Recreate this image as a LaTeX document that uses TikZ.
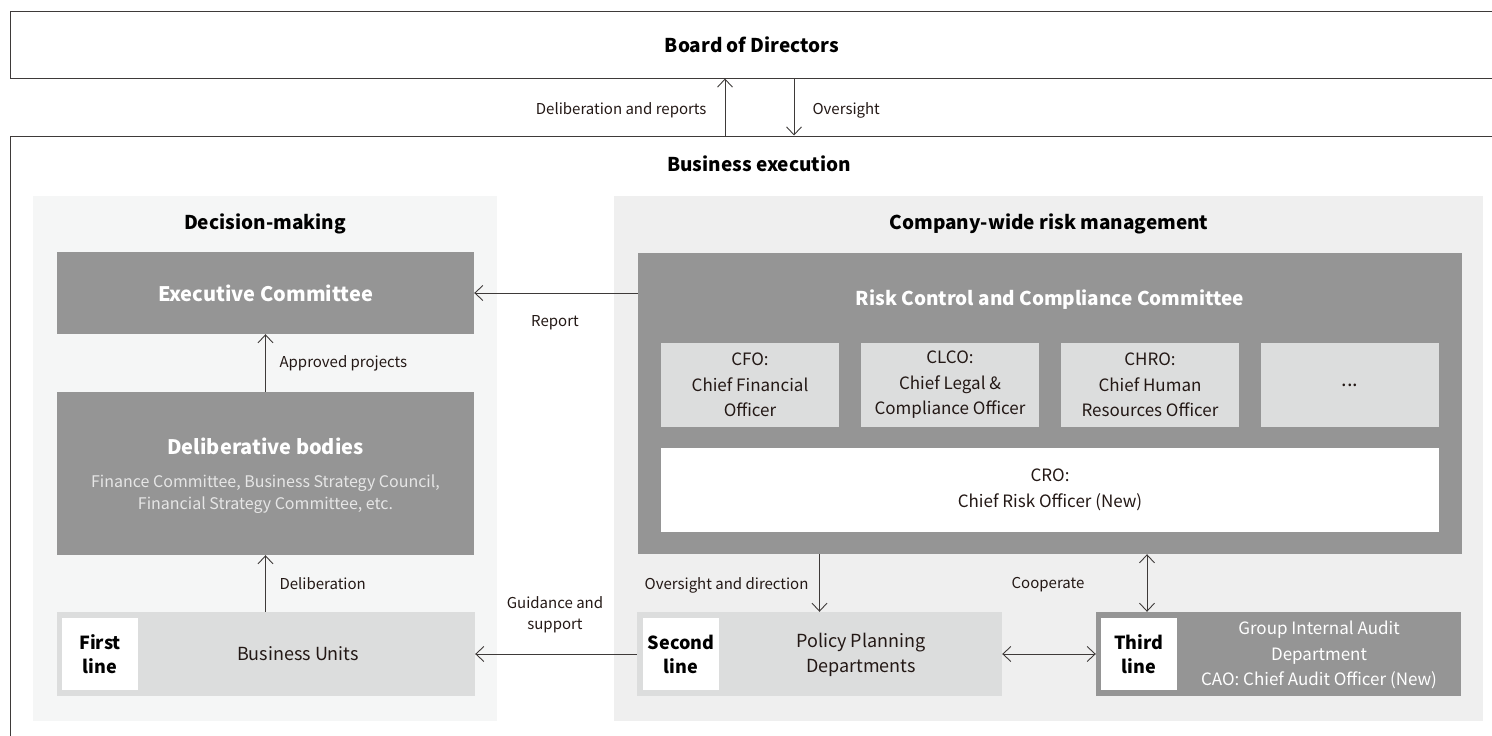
\documentclass[tikz,border=0pt]{standalone}
\usepackage{fontspec}
\setmainfont{Noto Sans CJK JP}
\usetikzlibrary{arrows.meta}
\definecolor{darkbox}{HTML}{959595}
\definecolor{lightbox}{HTML}{DCDDDD}
\definecolor{leftpanel}{HTML}{F5F6F6}
\definecolor{rightpanel}{HTML}{EFEFEF}
\definecolor{linegray}{HTML}{3E3A39}
\definecolor{subtext}{HTML}{E6E6E6}
\definecolor{textgray}{HTML}{231815}

\begin{document}
\begin{tikzpicture}[x=1pt, y=-1pt,
	area/.style 2 args={rectangle, inner sep=0pt, minimum width=#1, minimum height=#2},
	frame/.style={draw=linegray, line width=1pt},
	darkfill/.style={fill=darkbox, text=white},
	lightfill/.style={fill=lightbox, text=textgray},
	linebox/.style={area={76pt}{72pt}, fill=white, text=black, align=center,
		font=\fontsize{18}{24}\selectfont\bfseries},
	officer/.style={area={178pt}{84pt}, lightfill, align=center,
		font=\fontsize{17}{25.5}\selectfont},
	title/.style={text=black, font=\fontsize{19}{24}\selectfont\bfseries},
	lbl/.style={text=textgray, align=center, font=\fontsize{15}{21}\selectfont},
	flow/.style={draw=linegray, line width=0.9pt, -{Straight Barb[length=8pt,width=15pt]}},
	flowboth/.style={draw=linegray, line width=0.9pt, {Straight Barb[length=8pt,width=15pt]}-{Straight Barb[length=8pt,width=15pt]}}]
	\useasboundingbox (0,0) rectangle (1492,736);

	\node[area={1484pt}{67pt}, frame, title] (board) at (752,44.5) {Board of Directors};
	\node[area={1484pt}{604pt}, frame] (bizexec) at (752,438) {};
	\node[title] (bizexectitle) at (759,164) {Business execution};

	\node[area={464pt}{525pt}, fill=leftpanel] (decpanel) at (265,458.5) {};
	\node[area={869pt}{525pt}, fill=rightpanel] (riskpanel) at (1048.5,458.5) {};
	\node[title] (dectitle) at (265,224) {Decision-making};
	\node[title] (risktitle) at (1049,224) {Company-wide risk management};

	\node[area={417pt}{82pt}, darkfill, font=\fontsize{20}{24}\selectfont\bfseries] (exec) at (265.5,293) {Executive Committee};
	\node[area={417pt}{163pt}, darkfill] (delib) at (265.5,473.5) {};
	\node[text=white, font=\fontsize{20}{24}\selectfont\bfseries] (delibtitle) at (265.5,446) {Deliberative bodies};
	\node[text=subtext, align=center, font=\fontsize{16}{22}\selectfont] (delibsub) at (265.5,494) {Finance Committee, Business Strategy Council,\\Financial Strategy Committee, etc.};
	\node[area={418pt}{84pt}, lightfill] (bu) at (266,654) {};
	\node[linebox] (firstline) at (100,654) {First\\line};
	\node[text=textgray, font=\fontsize{18}{24}\selectfont] (butext) at (298,654) {Business Units};

	\node[area={824pt}{301pt}, darkfill] (rcc) at (1050,403.5) {};
	\node[text=white, font=\fontsize{19}{24}\selectfont\bfseries] (rcctitle) at (1050,300) {Risk Control and Compliance Committee};
	\node[officer] (cfo) at (750,385) {CFO:\\Chief Financial\\Officer};
	\node[officer] (clco) at (950,385) {CLCO:\\Chief Legal \&\\Compliance Officer};
	\node[officer] (chro) at (1150,385) {CHRO:\\Chief Human\\Resources Officer};
	\node[officer, font=\fontsize{20}{24}\selectfont] (more) at (1350,385) {...};
	\node[area={778pt}{84pt}, fill=white, text=textgray, align=center, font=\fontsize{17}{25.5}\selectfont] (cro) at (1050,490) {CRO:\\Chief Risk Officer (New)};

	\node[area={365pt}{84pt}, lightfill] (ppd) at (819.5,654) {};
	\node[linebox] (secondline) at (681,654) {Second\\line};
	\node[text=textgray, align=center, font=\fontsize{18}{25}\selectfont] (ppdtext) at (861,655) {Policy Planning\\Departments};
	\node[area={365pt}{84pt}, darkfill] (ia) at (1278.5,654) {};
	\node[linebox] (thirdline) at (1139,654) {Third\\line};
	\node[text=white, align=center, font=\fontsize{17}{25.5}\selectfont] (iatext) at (1319,655) {Group Internal Audit\\Department\\CAO: Chief Audit Officer (New)};

	\coordinate (upx) at (725,0);
	\coordinate (downx) at (794,0);
	\coordinate (coopx) at (1147,0);
	\draw[flow] (bizexec.north -| upx) -- (board.south -| upx);
	\draw[flow] (board.south -| downx) -- (bizexec.north -| downx);
	\draw[flow] (rcc.west |- exec.east) -- (exec.east);
	\draw[flow] (delib.north -| exec.south) -- (exec.south);
	\draw[flow] (bu.north -| delib.south) -- (delib.south);
	\draw[flow] (ppd.west) -- (bu.east);
	\draw[flow] (rcc.south -| ppd.north) -- (ppd.north);
	\draw[flowboth] (rcc.south -| coopx) -- (ia.north -| coopx);
	\draw[flowboth] (ppd.east) -- (ia.west);

	\node[lbl, anchor=east] (lbldelrep) at (710,110) {Deliberation and reports};
	\node[lbl, anchor=west] (lbloversight) at (809,110) {Oversight};
	\node[lbl] (lblreport) at (555,323) {Report};
	\node[lbl, anchor=west] (lblapproved) at (276,363) {Approved projects};
	\node[lbl, anchor=west] (lbldelib) at (276,584) {Deliberation};
	\node[lbl] (lblguide) at (555,615) {Guidance and\\support};
	\node[lbl, anchor=east] (lbloversdir) at (812,585) {Oversight and direction};
	\node[lbl] (lblcoop) at (1048,585) {Cooperate};
\end{tikzpicture}
\end{document}
